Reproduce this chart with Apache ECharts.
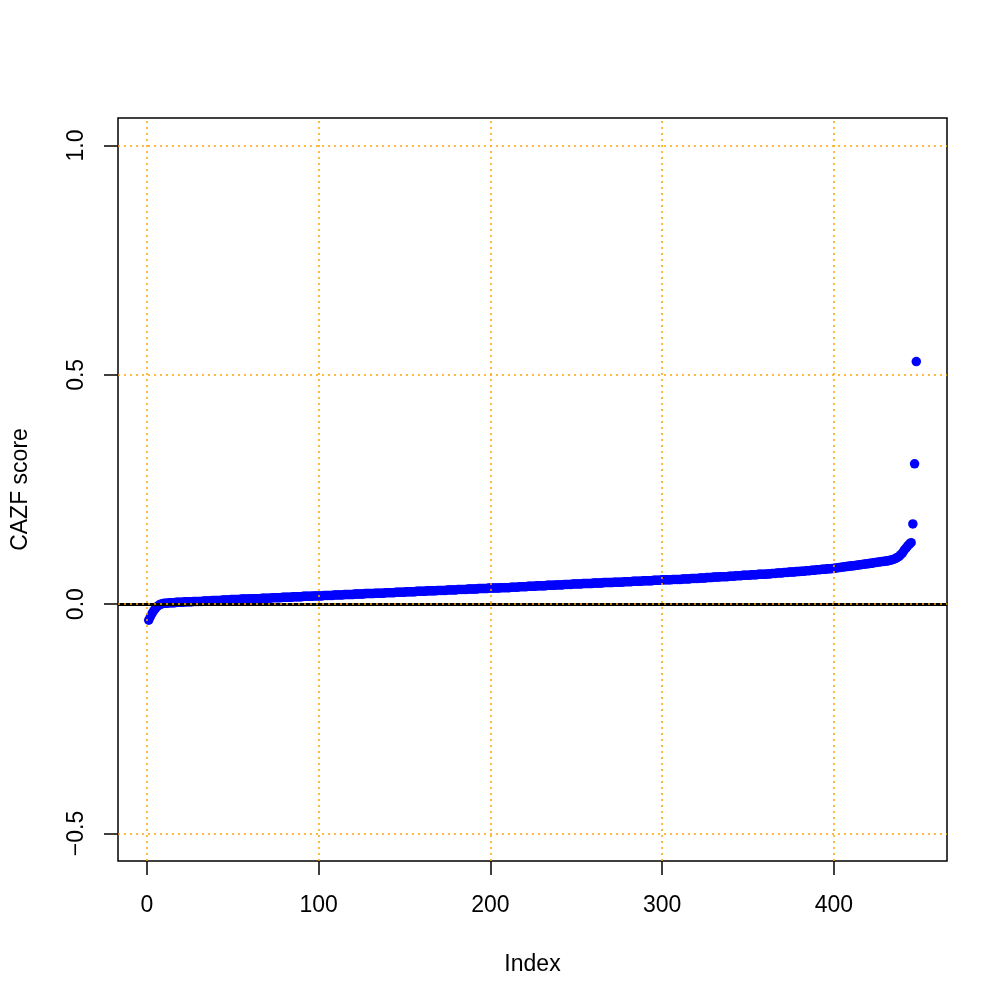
<!DOCTYPE html>
<html>
<head>
<meta charset="utf-8">
<script src="https://cdn.jsdelivr.net/npm/echarts@6/dist/echarts.min.js"></script>
<style>
html,body{margin:0;padding:0;background:#fff;}
#chart{width:1008px;height:1008px;}
</style>
</head>
<body>
<div id="chart"></div>
<script>
const xTicks = [0, 100, 200, 300, 400];
const yTicks = [-0.5, 0, 0.5, 1];
const xTitle = "Index";
const yTitle = "CAZF score";
// sorted CAZF scores, index 1..448
const cazf = [
-0.035,-0.027,-0.020,-0.014,-0.009,-0.005,-0.002,0.000,0.001,0.002,
0.002,0.002,0.003,0.003,0.003,0.003,0.004,0.004,0.004,0.004,
0.004,0.005,0.005,0.005,0.005,0.005,0.006,0.006,0.006,0.006,
0.006,0.006,0.007,0.007,0.007,0.007,0.007,0.008,0.008,0.008,
0.008,0.008,0.008,0.009,0.009,0.009,0.009,0.009,0.010,0.010,
0.010,0.010,0.010,0.010,0.011,0.011,0.011,0.011,0.011,0.011,
0.012,0.012,0.012,0.012,0.012,0.012,0.013,0.013,0.013,0.013,
0.013,0.013,0.014,0.014,0.014,0.014,0.014,0.014,0.015,0.015,
0.015,0.015,0.015,0.015,0.016,0.016,0.016,0.016,0.016,0.016,
0.017,0.017,0.017,0.017,0.017,0.017,0.018,0.018,0.018,0.018,
0.018,0.018,0.019,0.019,0.019,0.019,0.019,0.019,0.020,0.020,
0.020,0.020,0.020,0.020,0.021,0.021,0.021,0.021,0.021,0.021,
0.022,0.022,0.022,0.022,0.022,0.022,0.023,0.023,0.023,0.023,
0.023,0.023,0.024,0.024,0.024,0.024,0.024,0.024,0.025,0.025,
0.025,0.025,0.025,0.025,0.026,0.026,0.026,0.026,0.026,0.026,
0.027,0.027,0.027,0.027,0.027,0.027,0.028,0.028,0.028,0.028,
0.028,0.028,0.029,0.029,0.029,0.029,0.029,0.029,0.030,0.030,
0.030,0.030,0.030,0.030,0.031,0.031,0.031,0.031,0.031,0.031,
0.032,0.032,0.032,0.032,0.032,0.032,0.033,0.033,0.033,0.033,
0.033,0.033,0.034,0.034,0.034,0.034,0.034,0.034,0.035,0.035,
0.035,0.035,0.035,0.035,0.035,0.036,0.036,0.036,0.036,0.036,
0.036,0.037,0.037,0.037,0.037,0.037,0.038,0.038,0.038,0.038,
0.038,0.039,0.039,0.039,0.039,0.039,0.040,0.040,0.040,0.040,
0.040,0.040,0.041,0.041,0.041,0.041,0.041,0.042,0.042,0.042,
0.042,0.042,0.043,0.043,0.043,0.043,0.043,0.044,0.044,0.044,
0.044,0.044,0.044,0.045,0.045,0.045,0.045,0.045,0.045,0.046,
0.046,0.046,0.046,0.046,0.046,0.047,0.047,0.047,0.047,0.047,
0.047,0.048,0.048,0.048,0.048,0.048,0.048,0.049,0.049,0.049,
0.049,0.049,0.050,0.050,0.050,0.050,0.050,0.050,0.051,0.051,
0.051,0.051,0.051,0.051,0.052,0.052,0.052,0.052,0.052,0.053,
0.053,0.053,0.053,0.053,0.053,0.054,0.054,0.054,0.054,0.054,
0.054,0.055,0.055,0.055,0.055,0.055,0.056,0.056,0.056,0.056,
0.056,0.057,0.057,0.057,0.057,0.058,0.058,0.058,0.058,0.059,
0.059,0.059,0.059,0.060,0.060,0.060,0.060,0.060,0.061,0.061,
0.061,0.061,0.062,0.062,0.062,0.062,0.063,0.063,0.063,0.063,
0.063,0.064,0.064,0.064,0.064,0.065,0.065,0.065,0.065,0.065,
0.066,0.066,0.066,0.067,0.067,0.067,0.068,0.068,0.068,0.068,
0.069,0.069,0.069,0.070,0.070,0.070,0.070,0.071,0.071,0.071,
0.072,0.072,0.072,0.073,0.073,0.073,0.074,0.074,0.074,0.075,
0.075,0.075,0.076,0.076,0.076,0.077,0.077,0.077,0.078,0.078,
0.079,0.079,0.080,0.080,0.081,0.081,0.082,0.082,0.083,0.083,
0.084,0.084,0.085,0.085,0.086,0.086,0.087,0.087,0.088,0.088,
0.089,0.089,0.090,0.091,0.091,0.092,0.092,0.093,0.093,0.094,
0.094,0.095,0.096,0.097,0.098,0.100,0.102,0.104,0.108,0.112,
0.118,0.122,0.127,0.131,0.134,0.175,0.306,0.529
];

const points = cazf.map((v, i) => [i + 1, v]);
const FONT = '"Liberation Sans", Arial, Helvetica, sans-serif';
const fmtY = v => (v < 0 ? '\u2212' : '') + Math.abs(v).toFixed(1);

const chart = echarts.init(document.getElementById('chart'), null, {renderer: 'canvas'});
chart.setOption({
  animation: false,
  backgroundColor: '#ffffff',
  grid: {left: 118, right: 61, top: 118, bottom: 147, show: true, borderColor: '#000', borderWidth: 1.5, backgroundColor: 'transparent'},
  xAxis: {
    type: 'value', min: -16.88, max: 465.88,
    name: xTitle, nameLocation: 'middle', nameGap: 92,
    nameTextStyle: {color: '#000', fontSize: 23, fontFamily: FONT},
    axisLine: {show: false, onZero: false},
    axisTick: {show: true, length: 14, lineStyle: {color: '#000', width: 1.5}, customValues: xTicks},
    axisLabel: {color: '#000', fontSize: 23, fontFamily: FONT, margin: 33, customValues: xTicks, formatter: v => String(v)},
    splitLine: {show: false}
  },
  yAxis: {
    type: 'value', min: -0.56, max: 1.06,
    name: yTitle, nameLocation: 'middle', nameGap: 86, nameRotate: 90,
    nameTextStyle: {color: '#000', fontSize: 23, fontFamily: FONT},
    axisLine: {show: false, onZero: false},
    axisTick: {show: true, length: 14, lineStyle: {color: '#000', width: 1.5}, customValues: yTicks},
    axisLabel: {color: '#000', fontSize: 23, fontFamily: FONT, margin: 30, rotate: 90, customValues: yTicks, formatter: v => fmtY(v)},
    splitLine: {show: false}
  },
  series: [
    {
      type: 'scatter', data: [], z: 1, silent: true,
      markLine: {
        silent: true, symbol: 'none', label: {show: false}, animation: false,
        lineStyle: {color: '#000', type: 'solid', width: 3},
        data: [{yAxis: 0}]
      }
    },
    {
      type: 'scatter', data: points, z: 3, silent: true,
      symbol: 'circle', symbolSize: 9.5,
      itemStyle: {color: '#0000ff', opacity: 1}
    },
    {
      type: 'scatter', data: [], z: 2, silent: true,
      markLine: {
        silent: true, symbol: 'none', label: {show: false}, animation: false,
        lineStyle: {color: '#ffa500', type: [2, 4], width: 1.5},
        data: xTicks.map(v => ({xAxis: v})).concat(yTicks.map(v => ({yAxis: v})))
      }
    }
  ]
});
</script>
</body>
</html>
